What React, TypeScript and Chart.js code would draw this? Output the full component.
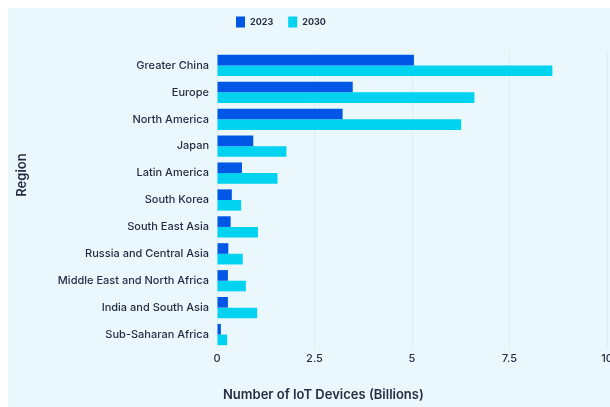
import React, { useEffect, useRef } from "react";
import { Chart, registerables } from "chart.js";

Chart.register(...registerables);

const regions = [
  "Greater China",
  "Europe",
  "North America",
  "Japan",
  "Latin America",
  "South Korea",
  "South East Asia",
  "Russia and Central Asia",
  "Middle East and North Africa",
  "India and South Asia",
  "Sub-Saharan Africa",
];
const values2023 = [5.05, 3.48, 3.22, 0.93, 0.64, 0.38, 0.35, 0.29, 0.28, 0.28, 0.1];
const values2030 = [8.6, 6.6, 6.26, 1.78, 1.55, 0.62, 1.05, 0.66, 0.74, 1.03, 0.26];
const seriesLabels = ["2023", "2030"];
const seriesColors = ["#0057e6", "#00d3ef"];
const xTitle = "Number of IoT Devices (Billions)";
const yTitle = "Region";

const FONT = "Inter, 'Noto Sans', sans-serif";
const TEXT = "#272c45";

const overlayPlugin = {
  id: "overlay",
  afterDraw(chart: any) {
    const ctx = chart.ctx;
    const ca = chart.chartArea;
    ctx.save();
    // legend
    ctx.font = `700 9px ${FONT}`;
    ctx.textBaseline = "middle";
    ctx.textAlign = "left";
    let x = ca.left + 19;
    const y = 14;
    chart.data.datasets.forEach((ds: any) => {
      ctx.fillStyle = ds.backgroundColor;
      ctx.fillRect(x, y - 5.5, 9, 11);
      ctx.fillStyle = TEXT;
      ctx.fillText(ds.label, x + 14, y);
      x += 14 + ctx.measureText(ds.label).width + 15;
    });
    // x title
    ctx.font = `600 13px ${FONT}`;
    ctx.fillStyle = TEXT;
    ctx.textAlign = "left";
    ctx.fillText(xTitle, ca.left + 6, 387);
    // y title
    ctx.translate(14, 167);
    ctx.rotate(-Math.PI / 2);
    ctx.textAlign = "center";
    ctx.fillText(yTitle, 0, 0);
    ctx.restore();
  },
};

export default function App() {
  const ref = useRef<HTMLCanvasElement>(null);
  useEffect(() => {
    document.documentElement.style.overflow = "hidden";
    document.body.style.marginRight = "0px";
    if (!ref.current) return;
    const chart = new Chart(ref.current, {
      type: "bar",
      data: {
        labels: regions,
        datasets: [
          { label: seriesLabels[0], data: values2023, backgroundColor: seriesColors[0] },
          { label: seriesLabels[1], data: values2030, backgroundColor: seriesColors[1] },
        ],
      },
      options: {
        indexAxis: "y",
        animation: false,
        responsive: false,
        maintainAspectRatio: false,
        layout: { padding: { top: 44, right: 26, left: 0, bottom: 0 } },
        datasets: { bar: { categoryPercentage: 0.79, barPercentage: 1 } },
        plugins: {
          legend: { display: false },
          tooltip: { enabled: false },
        },
        scales: {
          x: {
            min: 0,
            max: 10,
            ticks: {
              stepSize: 2.5,
              padding: 4,
              color: TEXT,
              font: { family: FONT, size: 11, weight: 500 },
            },
            grid: { color: "rgba(210,230,240,0.6)", drawTicks: false },
            border: { display: false },
            afterFit(scale: any) {
              scale.height = 70;
            },
          },
          y: {
            ticks: {
              padding: 8,
              color: TEXT,
              font: { family: FONT, size: 11, weight: 500 },
              autoSkip: false,
            },
            grid: { display: false, drawTicks: false },
            border: { display: false },
            afterFit(scale: any) {
              scale.width = 209;
            },
          },
        },
      },
      plugins: [overlayPlugin],
    } as any);
    return () => chart.destroy();
  }, []);
  return (
    <div
      style={{
        width: 625,
        height: 410,
        overflow: "hidden",
        background: "#eaf8fd",
      }}
    >
      <canvas ref={ref} width={625} height={410} style={{ display: "block" }} />
    </div>
  );
}
